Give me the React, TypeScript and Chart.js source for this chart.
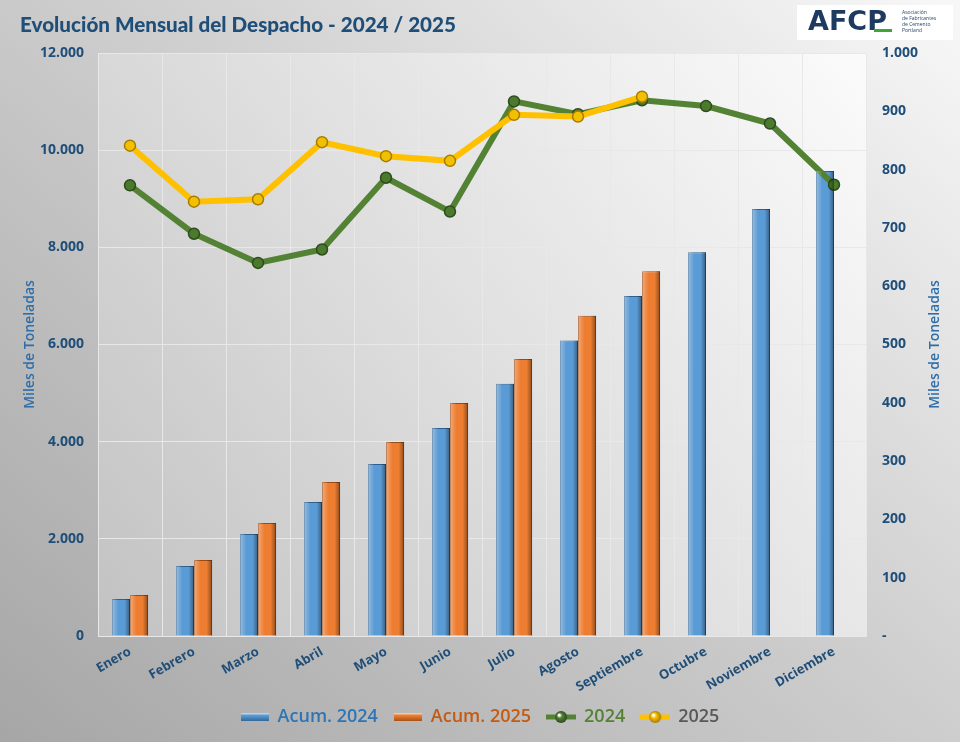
import { Chart, registerables } from 'chart.js';
import { useEffect, useRef } from 'react';

Chart.register(...registerables);

const months = [
  'Enero',
  'Febrero',
  'Marzo',
  'Abril',
  'Mayo',
  'Junio',
  'Julio',
  'Agosto',
  'Septiembre',
  'Octubre',
  'Noviembre',
  'Diciembre',
];

// acumulado, miles de toneladas (eje izquierdo)
const acum2024 = [760, 1440, 2100, 2760, 3540, 4280, 5190, 6080, 7000, 7900, 8790, 9570];
const acum2025 = [845, 1565, 2325, 3170, 3995, 4795, 5700, 6590, 7510, null, null, null];

// mensual, miles de toneladas (eje derecho)
const mensual2024 = [773, 690, 640, 663, 786, 728, 917, 895, 919, 909, 879, 774];
const mensual2025 = [841, 745, 749, 847, 823, 815, 894, 891, 925, null, null, null];

const leftTicks = [0, 2000, 4000, 6000, 8000, 10000, 12000];
const rightTicks = [0, 100, 200, 300, 400, 500, 600, 700, 800, 900, 1000];

const navy = '#1f4e79';
const axisTitleColor = '#2e6fab';
const FONT = "'Open Sans', sans-serif";

const fmt = (v: number) => String(v).replace(/\B(?=(\d{3})+(?!\d))/g, '.');

const barMarker = (fill: string, dark: string) => {
  const c = document.createElement('canvas');
  c.width = 28;
  c.height = 10;
  const ctx = c.getContext('2d')!;
  const g = ctx.createLinearGradient(0, 0, 0, 10);
  g.addColorStop(0, '#ffffff');
  g.addColorStop(0.35, fill);
  g.addColorStop(1, dark);
  ctx.fillStyle = g;
  ctx.fillRect(0, 1, 28, 8);
  return c;
};

const lineMarker = (fill: string, dark: string) => {
  const c = document.createElement('canvas');
  c.width = 30;
  c.height = 14;
  const ctx = c.getContext('2d')!;
  ctx.strokeStyle = fill;
  ctx.lineWidth = 5;
  ctx.beginPath();
  ctx.moveTo(0, 7);
  ctx.lineTo(30, 7);
  ctx.stroke();
  const g = ctx.createRadialGradient(13, 5, 1, 15, 7, 6);
  g.addColorStop(0, '#ffffff');
  g.addColorStop(0.3, fill);
  g.addColorStop(1, dark);
  ctx.fillStyle = g;
  ctx.beginPath();
  ctx.arc(15, 7, 6, 0, Math.PI * 2);
  ctx.fill();
  return c;
};

const App = () => {
  const canvasRef = useRef<HTMLCanvasElement | null>(null);

  useEffect(() => {
    if (!canvasRef.current) return;
    document.body.style.margin = '0';

    const markers = [
      barMarker('#5b9bd5', '#2e5f8f'),
      barMarker('#ed7d31', '#9c4a14'),
      lineMarker('#548235', '#2f4a1d'),
      lineMarker('#ffc000', '#a67c00'),
    ];
    const legendColors = ['#2e75b6', '#c55a11', '#548235', '#595959'];

    const background = {
      id: 'background',
      beforeDraw(chart: Chart) {
        const { ctx, width, height, chartArea: a } = chart;
        ctx.save();
        const g = ctx.createLinearGradient(0, height, width * 0.8, -height * 0.2);
        g.addColorStop(0, '#a6a6a6');
        g.addColorStop(0.55, '#cfcfcf');
        g.addColorStop(1, '#f7f7f7');
        ctx.fillStyle = g;
        ctx.fillRect(0, 0, width, height);
        const p = ctx.createLinearGradient(a.left, a.bottom, a.right, a.top);
        p.addColorStop(0, '#c2c2c2');
        p.addColorStop(0.5, '#e0e0e0');
        p.addColorStop(1, '#fbfbfb');
        ctx.fillStyle = p;
        ctx.fillRect(a.left, a.top, a.right - a.left, a.bottom - a.top);
        ctx.restore();
      },
      afterDraw(chart: Chart) {
        const { ctx, chartArea: a } = chart;
        ctx.save();
        ctx.fillStyle = navy;
        ctx.font = `900 21px Lato, sans-serif`;
        ctx.textBaseline = 'middle';
        ctx.fillText('Evolución Mensual del Despacho - 2024 / 2025', 20, 25, 436);
        // logo
        ctx.fillStyle = '#ffffff';
        ctx.fillRect(797, 5, 156, 35);
        ctx.font = `bold 27px 'DejaVu Sans', sans-serif`;
        ctx.fillStyle = '#1d3a5f';
        ctx.fillText('AFCP', 808, 23, 84);
        ctx.fillStyle = '#3fa535';
        ctx.fillRect(874, 29, 18, 3);
        ctx.fillStyle = '#1d3a5f';
        ctx.font = `5px 'Open Sans', sans-serif`;
        ['Asociación', 'de Fabricantes', 'de Cemento', 'Portland'].forEach((t, i) => {
          ctx.fillText(t, 902, 13 + i * 6);
        });
        // título del eje derecho, leído de abajo hacia arriba como el izquierdo
        ctx.translate(935, (a.top + a.bottom) / 2);
        ctx.rotate(-Math.PI / 2);
        ctx.textAlign = 'center';
        ctx.fillStyle = axisTitleColor;
        ctx.font = `600 14px ${FONT}`;
        ctx.fillText('Miles de Toneladas', 0, 0);
        ctx.restore();
      },
    };

    const barShine = {
      id: 'barShine',
      afterDatasetsDraw(chart: Chart) {
        const { ctx } = chart;
        ctx.save();
        [0, 1].forEach((di) => {
          chart.getDatasetMeta(di).data.forEach((el: any) => {
            if (el.skip || el.y == null || isNaN(el.y)) return;
            const l = el.x - el.width / 2;
            const g = ctx.createLinearGradient(l, 0, l + el.width, 0);
            g.addColorStop(0, 'rgba(255,255,255,0.35)');
            g.addColorStop(0.35, 'rgba(255,255,255,0)');
            g.addColorStop(0.7, 'rgba(0,0,0,0)');
            g.addColorStop(1, 'rgba(0,0,0,0.4)');
            ctx.fillStyle = g;
            ctx.fillRect(l, el.y, el.width, el.base - el.y);
          });
        });
        ctx.restore();
      },
    };

    const chart = new Chart(canvasRef.current, {
      type: 'bar',
      data: {
        labels: months,
        datasets: [
          {
            type: 'bar',
            label: 'Acum. 2024',
            data: acum2024,
            backgroundColor: '#5b9bd5',
            borderColor: '#2e5f8f',
            borderWidth: 1,
            yAxisID: 'y',
            order: 2,
          },
          {
            type: 'bar',
            label: 'Acum. 2025',
            data: acum2025,
            backgroundColor: '#ed7d31',
            borderColor: '#9c4a14',
            borderWidth: 1,
            yAxisID: 'y',
            order: 2,
          },
          {
            type: 'line',
            label: '2024',
            data: mensual2024,
            borderColor: '#548235',
            borderWidth: 6,
            pointRadius: 5.5,
            pointBackgroundColor: '#4a7a2c',
            pointBorderColor: '#2f4a1d',
            pointBorderWidth: 1.5,
            yAxisID: 'y1',
            order: 1,
          },
          {
            type: 'line',
            label: '2025',
            data: mensual2025,
            borderColor: '#ffc000',
            borderWidth: 6,
            pointRadius: 5.5,
            pointBackgroundColor: '#f2c000',
            pointBorderColor: '#a67c00',
            pointBorderWidth: 1.5,
            yAxisID: 'y1',
            order: 0,
          },
        ] as any,
      },
      options: {
        animation: false,
        responsive: false,
        layout: { padding: { left: 8, right: 8, top: 53, bottom: 6 } },
        datasets: {
          bar: { categoryPercentage: 0.565, barPercentage: 1 },
        },
        plugins: {
          tooltip: { enabled: false },
          legend: {
            position: 'bottom',
            labels: {
              usePointStyle: true,
              pointStyleWidth: 28,
              padding: 16,
              font: { family: FONT, size: 18, weight: 600 },
              generateLabels: (c: Chart) =>
                c.data.datasets.map((ds, i) => ({
                  text: ds.label as string,
                  fontColor: legendColors[i],
                  pointStyle: markers[i] as any,
                  fillStyle: 'transparent',
                  strokeStyle: 'transparent',
                  lineWidth: 0,
                  hidden: false,
                  datasetIndex: i,
                })),
              sort: (a: any, b: any) => a.datasetIndex - b.datasetIndex,
            },
          },
        },
        scales: {
          x: {
            afterFit: (s: any) => {
              s.height = 56;
            },
            grid: { color: '#e8e8e8', drawTicks: false, offset: true },
            border: { color: '#e8e8e8' },
            ticks: {
              color: navy,
              minRotation: 30,
              maxRotation: 30,
              padding: 8,
              font: { family: FONT, size: 13, weight: 'bold' },
            },
          },
          y: {
            position: 'left',
            min: 0,
            max: 12000,
            afterFit: (s: any) => {
              s.width = 90;
            },
            afterBuildTicks: (s: any) => {
              s.ticks = leftTicks.map((v) => ({ value: v }));
            },
            grid: { color: '#e8e8e8', drawTicks: false },
            border: { color: '#e8e8e8' },
            ticks: {
              color: navy,
              padding: 14,
              font: { family: FONT, size: 14, weight: 'bold' },
              callback: (v: any) => fmt(Number(v)),
            },
            title: {
              display: true,
              text: 'Miles de Toneladas',
              color: axisTitleColor,
              padding: { top: 14, bottom: 0 },
              font: { family: FONT, size: 14, weight: 600 },
            },
          },
          y1: {
            position: 'right',
            min: 0,
            max: 1000,
            afterFit: (s: any) => {
              s.width = 86;
            },
            afterBuildTicks: (s: any) => {
              s.ticks = rightTicks.map((v) => ({ value: v }));
            },
            grid: { display: false, drawTicks: false },
            border: { display: false },
            ticks: {
              color: navy,
              padding: 16,
              font: { family: FONT, size: 14, weight: 'bold' },
              callback: (v: any) => (Number(v) === 0 ? '-' : fmt(Number(v))),
            },
          },
        },
      },
      plugins: [background, barShine],
    });

    return () => {
      chart.destroy();
    };
  }, []);

  return <canvas ref={canvasRef} width={960} height={742} style={{ display: 'block' }} />;
};

export default App;
